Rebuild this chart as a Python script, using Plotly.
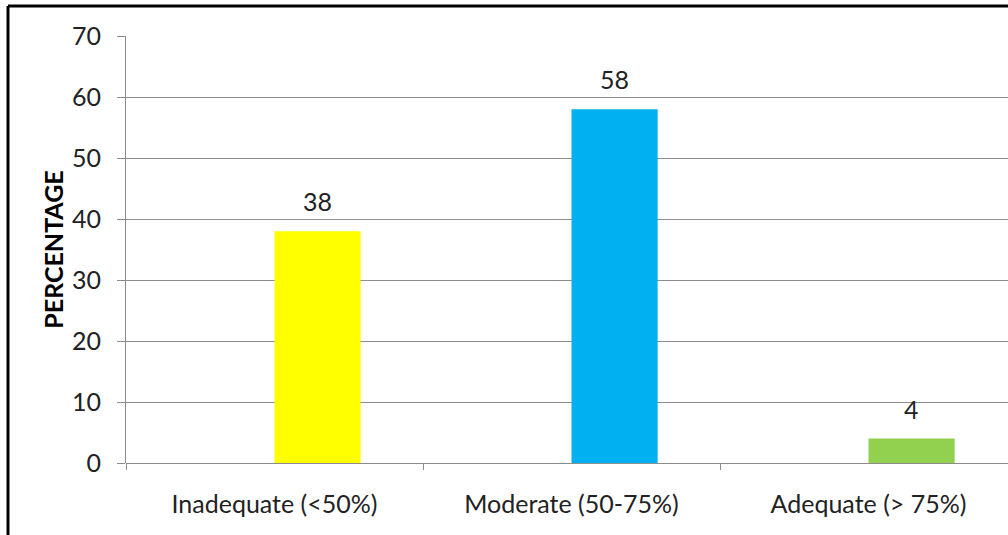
import plotly.graph_objects as go

categories = ["Inadequate (<50%)", "Moderate (50-75%)", "Adequate (> 75%)"]
values = [38, 58, 4]
colors = ["#FFFF00", "#00B0F0", "#92D050"]
y_ticks = [0, 10, 20, 30, 40, 50, 60, 70]

W, H = 1008, 535
L, T, B = 126, 36, 72
plot_w = W - L
cat_px = 297.0
x_max = -0.5 + plot_w / cat_px
bar_w = 0.29
font = "Lato"
FS = 25

fig = go.Figure()
fig.add_trace(go.Bar(
    x=categories, y=values, marker_color=colors, marker_line_width=0,
    width=bar_w, offset=0,
))

for c, v in zip(categories, values):
    fig.add_annotation(x=c, y=v, text=str(v), showarrow=False,
                       xshift=bar_w / 2 * cat_px, yshift=30, yanchor="middle",
                       font=dict(family=font, size=FS, color="#222222"))

fig.update_layout(
    width=W, height=H,
    margin=dict(l=L, r=0, t=T, b=B),
    paper_bgcolor="white", plot_bgcolor="white",
    showlegend=False,
    xaxis=dict(
        type="category", range=[-0.5, x_max], tickson="boundaries",
        ticks="outside", ticklen=6, tickcolor="#8C8C8C", tickwidth=1,
        showgrid=False, showline=False, zeroline=False,
        tickfont=dict(family=font, size=FS, color="#222222"),
        ticklabelstandoff=24,
    ),
    yaxis=dict(
        range=[0, 70], tickvals=y_ticks, ticks="outside", ticklen=8,
        tickcolor="#8C8C8C", tickwidth=1,
        showgrid=True, gridcolor="#8C8C8C", gridwidth=1,
        showline=True, linecolor="#8C8C8C", linewidth=1,
        zeroline=True, zerolinecolor="#8C8C8C", zerolinewidth=1,
        tickfont=dict(family=font, size=FS, color="#222222"),
        ticklabelstandoff=11,
        title=dict(text="<b>PERCENTAGE</b>", font=dict(family=font, size=FS, color="#000000"), standoff=1),
    ),
)

# frame border (top and left visible)
fig.add_shape(type="line", xref="paper", yref="paper",
              x0=(8 - L) / plot_w, x1=(W + 5 - L) / plot_w,
              y0=(H - 6 - B) / (H - T - B), y1=(H - 6 - B) / (H - T - B),
              line=dict(color="black", width=3))
fig.add_shape(type="line", xref="paper", yref="paper",
              x0=(8 - L) / plot_w, x1=(8 - L) / plot_w,
              y0=(H - 6 - B) / (H - T - B), y1=(-5 - B) / (H - T - B),
              line=dict(color="black", width=3))

fig.write_html("out.html")
